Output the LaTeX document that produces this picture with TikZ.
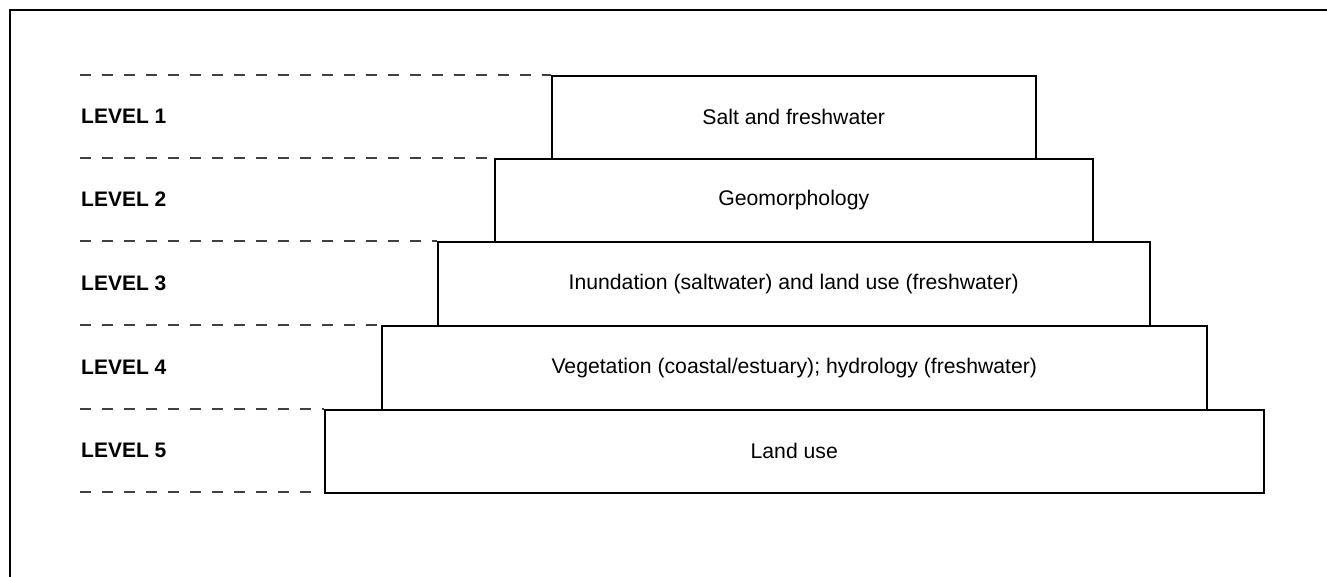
\documentclass[tikz,border=0pt]{standalone}
\usepackage{fontspec}
\setmainfont{Liberation Sans}
\begin{document}
\begin{tikzpicture}[x=1pt,y=-1pt,
  levelbox/.style={draw=black,line width=1.5pt,inner sep=0pt,anchor=north west},
  levellabel/.style={anchor=west,inner sep=0pt,font=\fontsize{21}{25}\selectfont\bfseries},
  boxtext/.style={font=\fontsize{21.2}{25}\selectfont},
  guide/.style={draw=black!75,line width=1.5pt,dash pattern=on 11pt off 11pt}]
\useasboundingbox (0,0) rectangle (1327,576);
\draw[line width=2pt] (9.5,600) -- (9.5,9.5) -- (1340,9.5);
% boxes
\node[levelbox,minimum width=484pt,minimum height=83pt,boxtext] (b1) at (551,75) {Salt and freshwater};
\node[levelbox,minimum width=598pt,minimum height=83pt,boxtext] (b2) at (494,158) {Geomorphology};
\node[levelbox,minimum width=712pt,minimum height=84pt,boxtext] (b3) at (437,241) {Inundation (saltwater) and land use (freshwater)};
\node[levelbox,minimum width=825pt,minimum height=84pt,boxtext] (b4) at (381,325) {Vegetation (coastal/estuary); hydrology (freshwater)};
\node[levelbox,minimum width=939pt,minimum height=83pt,boxtext] (b5) at (324,409) {Land use};
% guide line start points
\coordinate (g1) at (80,75);
\coordinate (g2) at (80,158);
\coordinate (g3) at (80,241);
\coordinate (g4) at (80,325);
\coordinate (g5) at (80,409);
\coordinate (g6) at (80,492);
\coordinate (e6) at (320,492);
\draw[guide] (g1) -- (b1.north west);
\draw[guide] (g2) -- (b2.north west);
\draw[guide] (g3) -- (b3.north west);
\draw[guide] (g4) -- (b4.north west);
\draw[guide] (g5) -- (b5.north west);
\draw[guide] (g6) -- (e6);
% labels
\node[levellabel] (l1) at (81,116.5) {LEVEL 1};
\node[levellabel] (l2) at (81,199.5) {LEVEL 2};
\node[levellabel] (l3) at (81,283) {LEVEL 3};
\node[levellabel] (l4) at (81,367) {LEVEL 4};
\node[levellabel] (l5) at (81,450.5) {LEVEL 5};
\end{tikzpicture}
\end{document}
